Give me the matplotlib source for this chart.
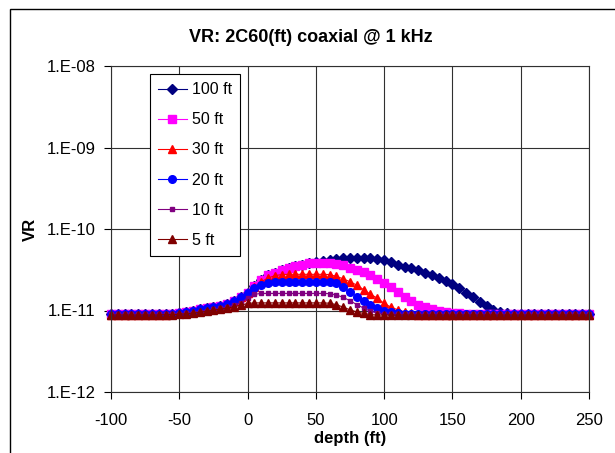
import matplotlib
matplotlib.use('Agg')
import matplotlib.pyplot as plt
from matplotlib.patches import Rectangle
from matplotlib.ticker import FuncFormatter, FixedLocator
import numpy as np

plt.rcParams['font.family'] = ['Liberation Sans', 'DejaVu Sans']
plt.rcParams['axes.unicode_minus'] = False

# ------------------------------------------------------------------------------------------------
## data (VR values in units of 1e-11), depth every 5 ft from -100 to 250
depth = list(range(-100, 255, 5))

#          -100 ... -55 (10 pts)
vr_100 = [0.90, 0.90, 0.90, 0.90, 0.90, 0.90, 0.90, 0.90, 0.90, 0.91,
          # -50 ... -5
          0.92, 0.95, 0.99, 1.03, 1.06, 1.09, 1.13, 1.20, 1.30, 1.45,
          # 0 ... 45
          1.66, 2.00, 2.35, 2.70, 2.92, 3.10, 3.32, 3.50, 3.65, 3.80,
          # 50 ... 95
          3.92, 4.05, 4.18, 4.28, 4.35, 4.40, 4.42, 4.42, 4.38, 4.30,
          # 100 ... 145
          4.15, 3.90, 3.65, 3.45, 3.32, 3.10, 2.90, 2.70, 2.52, 2.30,
          # 150 ... 195
          2.10, 1.88, 1.65, 1.45, 1.27, 1.12, 1.02, 0.96, 0.93, 0.91,
          # 200 ... 250
          0.90, 0.90, 0.90, 0.90, 0.90, 0.90, 0.90, 0.90, 0.90, 0.90, 0.90]

vr_50 = [0.90, 0.90, 0.90, 0.90, 0.90, 0.90, 0.90, 0.90, 0.90, 0.91,
         0.92, 0.95, 0.99, 1.03, 1.06, 1.09, 1.13, 1.20, 1.30, 1.45,
         1.66, 2.00, 2.35, 2.70, 2.92, 3.10, 3.32, 3.50, 3.65, 3.78,
         3.85, 3.87, 3.85, 3.75, 3.58, 3.35, 3.18, 2.95, 2.70, 2.45,
         2.20, 1.94, 1.69, 1.48, 1.29, 1.17, 1.10, 1.04, 1.00, 0.97,
         0.94, 0.92, 0.90, 0.90, 0.90, 0.90, 0.90, 0.90, 0.90, 0.90,
         0.90, 0.90, 0.90, 0.90, 0.90, 0.90, 0.90, 0.90, 0.90, 0.90, 0.90]

vr_30 = [0.88, 0.88, 0.88, 0.88, 0.88, 0.88, 0.88, 0.88, 0.89, 0.90,
         0.92, 0.95, 0.99, 1.03, 1.06, 1.09, 1.13, 1.20, 1.30, 1.45,
         1.66, 1.95, 2.25, 2.50, 2.68, 2.76, 2.78, 2.78, 2.78, 2.78,
         2.78, 2.78, 2.76, 2.62, 2.45, 2.25, 2.05, 1.80, 1.58, 1.42,
         1.22, 1.10, 1.02, 0.96, 0.92, 0.89, 0.88, 0.88, 0.88, 0.88,
         0.88, 0.88, 0.88, 0.88, 0.88, 0.88, 0.88, 0.88, 0.88, 0.88,
         0.88, 0.88, 0.88, 0.88, 0.88, 0.88, 0.88, 0.88, 0.88, 0.88, 0.88]

vr_20 = [0.90, 0.90, 0.90, 0.90, 0.90, 0.90, 0.90, 0.90, 0.90, 0.91,
         0.92, 0.95, 0.99, 1.03, 1.06, 1.09, 1.13, 1.20, 1.30, 1.45,
         1.64, 1.90, 2.08, 2.18, 2.24, 2.25, 2.25, 2.25, 2.25, 2.25,
         2.25, 2.25, 2.24, 2.15, 1.94, 1.68, 1.48, 1.32, 1.17, 1.07,
         1.00, 0.95, 0.92, 0.90, 0.90, 0.90, 0.90, 0.90, 0.90, 0.90,
         0.90, 0.90, 0.90, 0.90, 0.90, 0.90, 0.90, 0.90, 0.90, 0.90,
         0.90, 0.90, 0.90, 0.90, 0.90, 0.90, 0.90, 0.90, 0.90, 0.90, 0.90]

vr_10 = [0.90, 0.90, 0.90, 0.90, 0.90, 0.90, 0.90, 0.90, 0.90, 0.90,
         0.91, 0.92, 0.94, 0.97, 1.00, 1.03, 1.06, 1.10, 1.16, 1.25,
         1.42, 1.58, 1.62, 1.62, 1.62, 1.62, 1.62, 1.62, 1.62, 1.62,
         1.62, 1.62, 1.61, 1.55, 1.45, 1.32, 1.18, 1.07, 0.98, 0.93,
         0.90, 0.90, 0.90, 0.90, 0.90, 0.90, 0.90, 0.90, 0.90, 0.90,
         0.90, 0.90, 0.90, 0.90, 0.90, 0.90, 0.90, 0.90, 0.90, 0.90,
         0.90, 0.90, 0.90, 0.90, 0.90, 0.90, 0.90, 0.90, 0.90, 0.90, 0.90]

vr_5 = [0.88, 0.88, 0.88, 0.88, 0.88, 0.88, 0.88, 0.88, 0.89, 0.89,
        0.90, 0.91, 0.93, 0.95, 0.98, 1.01, 1.04, 1.07, 1.11, 1.16,
        1.22, 1.24, 1.24, 1.24, 1.24, 1.24, 1.24, 1.24, 1.24, 1.24,
        1.24, 1.24, 1.23, 1.18, 1.10, 1.02, 0.96, 0.92, 0.89, 0.88,
        0.88, 0.88, 0.88, 0.88, 0.88, 0.88, 0.88, 0.88, 0.88, 0.88,
        0.88, 0.88, 0.88, 0.88, 0.88, 0.88, 0.88, 0.88, 0.88, 0.88,
        0.88, 0.88, 0.88, 0.88, 0.88, 0.88, 0.88, 0.88, 0.88, 0.88, 0.88]

labels = ['100 ft', '50 ft', '30 ft', '20 ft', '10 ft', '5 ft']
series = [vr_100, vr_50, vr_30, vr_20, vr_10, vr_5]
colors = ['#000080', '#FF00FF', '#FF0000', '#0000FF', '#800080', '#800000']
markers = ['D', 's', '^', 'o', 's', '^']
msizes = [5, 5.5, 6, 5.5, 3.5, 5.5]

x_ticks = [-100, -50, 0, 50, 100, 150, 200, 250]
y_ticks = [1e-12, 1e-11, 1e-10, 1e-9, 1e-8]

# ------------------------------------------------------------------------------------------------
## figure
fig = plt.figure(figsize=(6.15, 4.53), dpi=100)
ax = fig.add_axes([111 / 615, 61 / 453, 478 / 615, 326 / 453])

for vals, lab, col, mk, ms in zip(series, labels, colors, markers, msizes):
    ax.plot(depth, np.array(vals) * 1e-11, color=col, marker=mk, markersize=ms,
            linewidth=0.8, markeredgecolor=col, label=lab, clip_on=False)

ax.set_yscale('log')
ax.set_xlim(-100, 250)
ax.set_ylim(1e-12, 1e-8)
ax.xaxis.set_major_locator(FixedLocator(x_ticks))
ax.yaxis.set_major_locator(FixedLocator(y_ticks))
ax.yaxis.set_minor_locator(FixedLocator([]))
ax.yaxis.set_major_formatter(FuncFormatter(lambda v, p: '1.E-%02d' % round(-np.log10(v))))
ax.tick_params(axis='both', labelsize=12, direction='out', length=5, width=0.8, colors='black')
ax.tick_params(axis='x', pad=10)
ax.tick_params(axis='y', pad=6)
ax.grid(True, which='major', color='#303030', linewidth=0.8)
for s in ax.spines.values():
    s.set_color('#303030')
    s.set_linewidth(0.8)

ax.set_xlabel('depth (ft)', fontsize=12, fontweight='bold', labelpad=2)
ax.set_ylabel('VR', fontsize=12, fontweight='bold', labelpad=6)
fig.text(311 / 615, 1 - 38 / 453, 'VR: 2C60(ft) coaxial @ 1 kHz', ha='center', va='center',
         fontsize=13, fontweight='bold')

leg = ax.legend(loc='upper left', bbox_to_anchor=(0.0816, 0.975), borderaxespad=0,
                fontsize=11.5, labelspacing=0.95, handlelength=1.8, handletextpad=0.3,
                borderpad=0.5, fancybox=False, framealpha=1, edgecolor='black')
leg.get_frame().set_linewidth(0.8)

# outer chart border
fig.patches.append(Rectangle((10 / 615, -0.1), 1.2, 1.1 - 9 / 453, transform=fig.transFigure,
                             fill=False, edgecolor='black', linewidth=1))

fig.savefig('out.png', dpi=100)
